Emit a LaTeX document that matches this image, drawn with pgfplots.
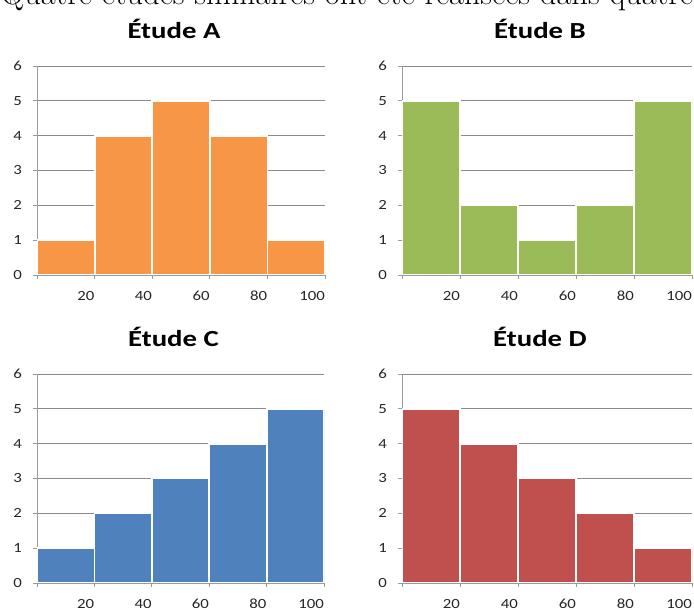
\documentclass[border=0pt]{standalone}
\usepackage{fontspec}
\usepackage{graphicx}
\usepackage{pgfplots}
\pgfplotsset{compat=1.18}
\newfontfamily\calibri{Carlito}
\definecolor{cA}{HTML}{F79646}
\definecolor{cB}{HTML}{9BBB59}
\definecolor{cC}{HTML}{4F81BD}
\definecolor{cD}{HTML}{C0504D}
\definecolor{gridc}{HTML}{8A8A8A}
\definecolor{axc}{HTML}{9A9A9A}
\newcommand{\sx}[1]{\scalebox{1.2}[1]{#1}}
\newcommand{\ttl}[1]{\scalebox{1.25}[1]{#1}}
\pgfplotsset{hist/.style={
  scale only axis, height=209pt,
  xmin=0,xmax=100,ymin=0,ymax=6,
  xtick={0,20,40,60,80,100}, xticklabels={,\sx{20},\sx{40},\sx{60},\sx{80},\sx{100}},
  ytick={0,1,2,3,4,5,6},
  yticklabel={\sx{\pgfmathprintnumber{\tick}}},
  axis x line*=bottom, axis y line*=left,
  axis line style={axc, line width=0.8pt},
  ymajorgrids, grid style={gridc, line width=0.9pt},
  tick align=outside, major tick length=4pt,
  tick style={axc, line width=0.8pt},
  /pgf/number format/assume math mode=true,
  tick label style={font=\calibri\fontsize{14}{16}\selectfont, text=black!85},
  xticklabel style={anchor=north east, inner sep=0pt, yshift=-12pt},
  yticklabel style={anchor=east, inner sep=0pt, xshift=-11pt},
  title style={font=\calibri\bfseries\fontsize{23}{28}\selectfont, at={(0.5,1)}, anchor=base, yshift=22pt, xshift=-7pt},
  anchor=south west,
}}
\begin{document}
\begin{tikzpicture}
\useasboundingbox (0pt,0pt) rectangle (694pt,-610pt);
\begin{scope}
\clip (0pt,0pt) rectangle (694pt,-610pt);
\node[anchor=base, inner sep=0pt, font=\fontsize{32.5}{38}\selectfont] at (347pt,-5pt) {Quatre études similaires ont été réalisées dans quatre};
\end{scope}
% A
\begin{axis}[hist, at={(37pt,-275pt)}, width=288pt, title={\ttl{Étude A}}]
\addplot[ybar interval, fill=cA, draw=white, line width=1.8pt] coordinates {(0,1)(20,4)(40,5)(60,4)(80,1)(100,1)};
\addplot[axc, line width=0.8pt, no marks] coordinates {(0,0)(100,0)};
\end{axis}
% B
\begin{axis}[hist, at={(402pt,-275pt)}, width=290pt, title={\ttl{Étude B}}]
\addplot[ybar interval, fill=cB, draw=white, line width=1.8pt] coordinates {(0,5)(20,2)(40,1)(60,2)(80,5)(100,5)};
\addplot[axc, line width=0.8pt, no marks] coordinates {(0,0)(100,0)};
\end{axis}
% C
\begin{axis}[hist, at={(37pt,-583pt)}, width=287pt, title={\ttl{Étude C}}]
\addplot[ybar interval, fill=cC, draw=white, line width=1.8pt] coordinates {(0,1)(20,2)(40,3)(60,4)(80,5)(100,5)};
\addplot[axc, line width=0.8pt, no marks] coordinates {(0,0)(100,0)};
\end{axis}
% D
\begin{axis}[hist, at={(402pt,-583pt)}, width=290pt, title={\ttl{Étude D}}]
\addplot[ybar interval, fill=cD, draw=white, line width=1.8pt] coordinates {(0,5)(20,4)(40,3)(60,2)(80,1)(100,1)};
\addplot[axc, line width=0.8pt, no marks] coordinates {(0,0)(100,0)};
\end{axis}
\end{tikzpicture}
\end{document}
